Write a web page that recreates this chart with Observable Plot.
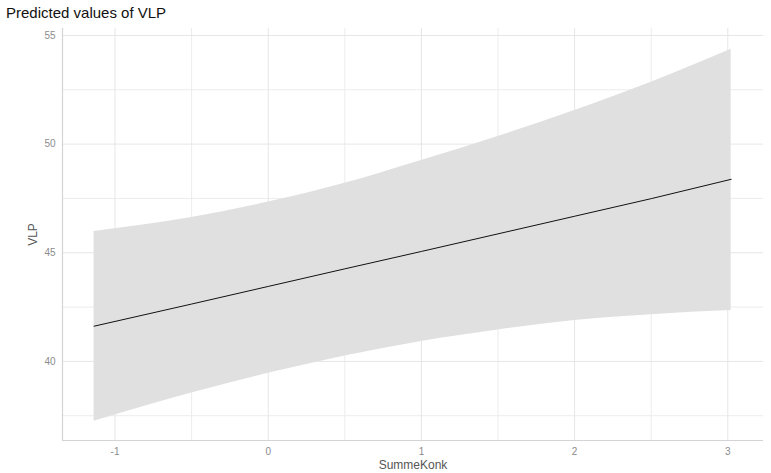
<!DOCTYPE html>
<html>
<head>
<meta charset="utf-8">
<script src="https://cdn.jsdelivr.net/npm/d3@7"></script>
<script src="https://cdn.jsdelivr.net/npm/@observablehq/plot@0.6"></script>
<style>
  html, body { margin: 0; padding: 0; background: #fff; }
  #wrap { position: relative; width: 771px; height: 473px; font-family: "Liberation Sans", Arial, sans-serif; }
  #title { position: absolute; left: 6px; top: 4px; font-size: 15px; line-height: 18px; color: #111; }
  #chart { position: absolute; left: 0; top: 28px; }
</style>
</head>
<body>
<div id="wrap">
  <div id="title">Predicted values of VLP</div>
  <div id="chart"></div>
</div>
<script>
const summeKonk = [-1.137, -0.5, 0, 0.5, 1, 1.5, 2, 2.5, 3.022];
const predicted = [41.62, 42.64, 43.45, 44.26, 45.06, 45.87, 46.68, 47.49, 48.38];
const confHigh  = [45.98, 46.62, 47.33, 48.2, 49.25, 50.35, 51.55, 52.85, 54.36];
const confLow   = [37.25, 38.55, 39.45, 40.25, 40.92, 41.45, 41.88, 42.15, 42.34];
const xTicks = [-1, 0, 1, 2, 3];
const yTicks = [40, 45, 50, 55];
const xMinor = [-0.5, 0.5, 1.5, 2.5];
const yMinor = [37.5, 42.5, 47.5, 52.5];

const data = summeKonk.map((x, i) => ({x, y: predicted[i], lo: confLow[i], hi: confHigh[i]}));

const plot = Plot.plot({
  width: 771,
  height: 445,
  marginTop: 0,
  marginBottom: 33,
  marginLeft: 62,
  marginRight: 8,
  style: {fontFamily: "Liberation Sans, Arial, sans-serif", background: "#fff"},
  x: {domain: [-1.343, 3.233]},
  y: {domain: [36.36, 55.32]},
  marks: [
    Plot.gridX(xMinor, {stroke: "#ececec", strokeOpacity: 1, strokeWidth: 1}),
    Plot.gridY(yMinor, {stroke: "#ececec", strokeOpacity: 1, strokeWidth: 1}),
    Plot.gridX(xTicks, {stroke: "#e6e6e6", strokeOpacity: 1, strokeWidth: 1}),
    Plot.gridY(yTicks, {stroke: "#e6e6e6", strokeOpacity: 1, strokeWidth: 1}),
    Plot.areaY(data, {x: "x", y1: "lo", y2: "hi", fill: "#e0e0e0", fillOpacity: 1, curve: "monotone-x"}),
    Plot.line(data, {x: "x", y: "y", stroke: "#111", strokeWidth: 1}),
    Plot.ruleX([-1.343], {stroke: "#d4d4d4", strokeWidth: 1.2}),
    Plot.ruleY([36.36], {stroke: "#d4d4d4", strokeWidth: 1.2}),
    Plot.axisY(yTicks, {tickSize: 0, tickPadding: 7, fontSize: 10, color: "#8c8c8c", tickFormat: d => String(d), label: "VLP", labelAnchor: "center", labelOffset: 34, labelArrow: "none"}),
    Plot.axisX(xTicks, {tickSize: 0, tickPadding: 7, fontSize: 10, color: "#8c8c8c", tickFormat: d => String(d), label: "SummeKonk", labelAnchor: "center", labelOffset: 28, labelArrow: "none"})
  ]
});
plot.querySelectorAll("g[aria-label='y-axis label'] text, g[aria-label='x-axis label'] text").forEach(t => { t.setAttribute("fill", "#555"); t.style.fontSize = "12px"; });
document.getElementById("chart").appendChild(plot);
</script>
</body>
</html>
